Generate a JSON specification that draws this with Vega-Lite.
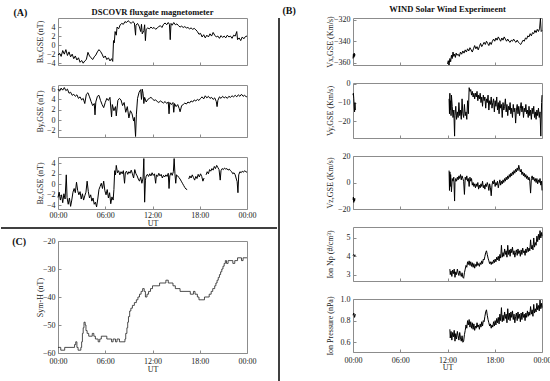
{
"$schema": "https://vega.github.io/schema/vega-lite/v6.json",
"background": "white",
"padding": {"left": 0, "top": 4, "right": 0, "bottom": 0},
"config": {
 "font": "Liberation Serif",
 "view": {"stroke": "#8c8c8c", "strokeWidth": 1},
 "axis": {"labelFont": "Liberation Serif", "labelFontSize": 8, "labelColor": "#1a1a1a", "titleFont": "Liberation Serif", "titleFontSize": 8, "titleFontWeight": "normal", "titleColor": "#1a1a1a", "domain": false, "grid": false, "tickColor": "#8c8c8c", "tickSize": -3, "labelPadding": 6},
 "axisX": {"titlePadding": -0.5, "labelFlush": false, "labelPadding": 5.5},
 "axisY": {"titlePadding": 2, "minExtent": 12, "maxExtent": 12},
 "title": {"font": "Liberation Serif", "fontSize": 8.5, "fontWeight": "bold", "color": "#111111", "offset": 2},
 "line": {"color": "black", "strokeWidth": 1, "clip": true}
},
"datasets": {
 "bx": [{"h":0,"v":-2.2},{"h":0.2,"v":-1.8},{"h":0.4,"v":-2.5},{"h":0.6,"v":-1.2},{"h":0.8,"v":-2.0},{"h":1.0,"v":-1.0},{"h":1.2,"v":-2.3},{"h":1.4,"v":-1.5},{"h":1.6,"v":-2.6},{"h":1.8,"v":-2.0},{"h":2.0,"v":-3.0},{"h":2.2,"v":-2.4},{"h":2.4,"v":-3.3},{"h":2.6,"v":-2.8},{"h":2.8,"v":-3.8},{"h":3.0,"v":-3.4},{"h":3.2,"v":-4.0},{"h":3.4,"v":-3.5},{"h":3.6,"v":-3.2},{"h":3.8,"v":-1.6},{"h":4.0,"v":-2.4},{"h":4.2,"v":-2.8},{"h":4.4,"v":-3.2},{"h":4.6,"v":-2.6},{"h":4.8,"v":-2.2},{"h":5.0,"v":-1.5},{"h":5.2,"v":-1.0},{"h":5.4,"v":-1.4},{"h":5.6,"v":-2.0},{"h":5.8,"v":-2.8},{"h":6.0,"v":-2.4},{"h":6.2,"v":-3.2},{"h":6.4,"v":-2.8},{"h":6.6,"v":-3.5},{"h":6.8,"v":-3.0},{"h":6.95,"v":-3.6},{"h":7.05,"v":1.0},{"h":7.15,"v":0.5},{"h":7.25,"v":3.0},{"h":7.4,"v":2.2},{"h":7.5,"v":4.0},{"h":7.7,"v":3.6},{"h":7.9,"v":4.5},{"h":8.1,"v":4.8},{"h":8.3,"v":4.6},{"h":8.5,"v":5.2},{"h":8.7,"v":5.0},{"h":8.9,"v":5.4},{"h":9.1,"v":5.1},{"h":9.3,"v":4.8},{"h":9.5,"v":5.2},{"h":9.7,"v":4.9},{"h":9.85,"v":2.2},{"h":9.9,"v":4.4},{"h":10.1,"v":4.8},{"h":10.3,"v":4.2},{"h":10.5,"v":3.0},{"h":10.6,"v":4.6},{"h":10.7,"v":2.5},{"h":10.9,"v":3.2},{"h":11.0,"v":4.5},{"h":11.1,"v":1.0},{"h":11.2,"v":3.5},{"h":11.4,"v":3.8},{"h":11.6,"v":3.6},{"h":11.8,"v":4.0},{"h":12.0,"v":3.7},{"h":12.2,"v":3.9},{"h":12.4,"v":3.5},{"h":12.6,"v":3.8},{"h":12.8,"v":4.1},{"h":13.0,"v":4.3},{"h":13.2,"v":3.9},{"h":13.4,"v":4.6},{"h":13.6,"v":4.9},{"h":13.8,"v":4.5},{"h":14.0,"v":5.0},{"h":14.15,"v":4.6},{"h":14.25,"v":1.2},{"h":14.35,"v":4.8},{"h":14.5,"v":4.4},{"h":14.7,"v":5.0},{"h":14.9,"v":4.5},{"h":15.1,"v":4.7},{"h":15.3,"v":4.3},{"h":15.5,"v":4.0},{"h":15.7,"v":4.2},{"h":15.9,"v":3.9},{"h":16.1,"v":4.1},{"h":16.3,"v":3.8},{"h":16.5,"v":3.9},{"h":16.7,"v":3.6},{"h":16.9,"v":3.8},{"h":17.1,"v":3.5},{"h":17.3,"v":3.7},{"h":17.5,"v":3.4},{"h":17.7,"v":3.0},{"h":17.9,"v":2.4},{"h":18.1,"v":2.6},{"h":18.3,"v":1.8},{"h":18.5,"v":2.3},{"h":18.7,"v":1.6},{"h":18.9,"v":2.2},{"h":19.1,"v":1.8},{"h":19.3,"v":2.5},{"h":19.5,"v":2.0},{"h":19.7,"v":2.8},{"h":19.9,"v":2.2},{"h":20.1,"v":1.8},{"h":20.3,"v":2.0},{"h":20.5,"v":1.5},{"h":20.7,"v":2.1},{"h":20.9,"v":1.7},{"h":21.1,"v":2.0},{"h":21.3,"v":1.6},{"h":21.5,"v":2.2},{"h":21.7,"v":1.8},{"h":21.9,"v":2.0},{"h":22.1,"v":1.5},{"h":22.3,"v":2.2},{"h":22.5,"v":2.0},{"h":22.7,"v":3.0},{"h":22.8,"v":1.2},{"h":23.0,"v":1.6},{"h":23.2,"v":1.0},{"h":23.4,"v":1.8},{"h":23.6,"v":1.4},{"h":23.8,"v":1.9},{"h":24.0,"v":2.0}],
 "by": [{"h":0,"v":6.0},{"h":0.2,"v":5.6},{"h":0.4,"v":6.2},{"h":0.6,"v":5.8},{"h":0.8,"v":6.3},{"h":1.0,"v":5.7},{"h":1.2,"v":6.0},{"h":1.4,"v":5.2},{"h":1.6,"v":5.4},{"h":1.8,"v":4.8},{"h":2.0,"v":5.0},{"h":2.2,"v":4.6},{"h":2.4,"v":4.9},{"h":2.6,"v":4.2},{"h":2.8,"v":4.5},{"h":3.0,"v":3.9},{"h":3.2,"v":4.2},{"h":3.4,"v":3.2},{"h":3.6,"v":5.0},{"h":3.8,"v":5.3},{"h":4.0,"v":4.5},{"h":4.2,"v":3.6},{"h":4.4,"v":2.8},{"h":4.6,"v":3.2},{"h":4.7,"v":1.0},{"h":4.8,"v":3.5},{"h":5.0,"v":4.6},{"h":5.2,"v":4.8},{"h":5.4,"v":3.8},{"h":5.6,"v":3.0},{"h":5.8,"v":2.4},{"h":6.0,"v":3.4},{"h":6.2,"v":4.2},{"h":6.4,"v":3.8},{"h":6.6,"v":4.4},{"h":6.8,"v":0.6},{"h":6.9,"v":3.0},{"h":7.1,"v":1.8},{"h":7.3,"v":2.6},{"h":7.4,"v":0.8},{"h":7.6,"v":3.8},{"h":7.8,"v":4.2},{"h":8.0,"v":3.9},{"h":8.2,"v":2.8},{"h":8.4,"v":3.4},{"h":8.6,"v":1.5},{"h":8.8,"v":2.6},{"h":9.0,"v":0.4},{"h":9.2,"v":1.8},{"h":9.4,"v":1.2},{"h":9.6,"v":-0.2},{"h":9.7,"v":0.5},{"h":9.85,"v":-3.2},{"h":9.95,"v":1.0},{"h":10.1,"v":4.2},{"h":10.3,"v":5.4},{"h":10.5,"v":5.9},{"h":10.6,"v":4.0},{"h":10.7,"v":6.0},{"h":10.8,"v":5.2},{"h":10.9,"v":3.2},{"h":11.0,"v":4.4},{"h":11.2,"v":3.5},{"h":11.4,"v":4.0},{"h":11.6,"v":4.2},{"h":11.8,"v":4.4},{"h":12.0,"v":4.1},{"h":12.2,"v":3.8},{"h":12.4,"v":3.9},{"h":12.6,"v":3.6},{"h":12.8,"v":3.4},{"h":13.0,"v":3.7},{"h":13.2,"v":3.5},{"h":13.4,"v":3.3},{"h":13.6,"v":3.6},{"h":13.8,"v":3.2},{"h":14.0,"v":3.5},{"h":14.1,"v":1.2},{"h":14.2,"v":3.4},{"h":14.4,"v":3.0},{"h":14.6,"v":3.4},{"h":14.7,"v":1.5},{"h":14.8,"v":3.2},{"h":15.0,"v":2.6},{"h":15.2,"v":3.0},{"h":15.4,"v":2.2},{"h":15.5,"v":1.6},{"h":15.7,"v":2.8},{"h":15.9,"v":3.0},{"h":16.1,"v":3.3},{"h":16.3,"v":3.1},{"h":16.5,"v":3.5},{"h":16.7,"v":3.3},{"h":16.9,"v":3.7},{"h":17.1,"v":3.5},{"h":17.3,"v":3.9},{"h":17.5,"v":3.7},{"h":17.7,"v":4.0},{"h":17.9,"v":3.8},{"h":18.1,"v":4.2},{"h":18.3,"v":4.5},{"h":18.5,"v":4.1},{"h":18.7,"v":4.7},{"h":18.9,"v":4.3},{"h":19.1,"v":4.6},{"h":19.3,"v":4.2},{"h":19.5,"v":4.4},{"h":19.7,"v":4.0},{"h":19.9,"v":4.3},{"h":20.1,"v":3.6},{"h":20.2,"v":2.6},{"h":20.3,"v":3.8},{"h":20.5,"v":4.5},{"h":20.7,"v":4.2},{"h":20.9,"v":4.6},{"h":21.1,"v":4.3},{"h":21.3,"v":4.5},{"h":21.5,"v":4.2},{"h":21.7,"v":4.6},{"h":21.9,"v":4.4},{"h":22.1,"v":4.7},{"h":22.3,"v":4.5},{"h":22.5,"v":4.8},{"h":22.7,"v":4.5},{"h":22.9,"v":4.9},{"h":23.1,"v":4.6},{"h":23.3,"v":5.0},{"h":23.5,"v":4.6},{"h":23.7,"v":4.8},{"h":23.9,"v":4.5},{"h":24.0,"v":4.6}],
 "bz": [{"h":0,"v":-2.5,"s":0},{"h":0.15,"v":-1.5,"s":0},{"h":0.3,"v":-3.0,"s":0},{"h":0.45,"v":-2.0,"s":0},{"h":0.6,"v":-3.5,"s":0},{"h":0.75,"v":-1.8,"s":0},{"h":0.9,"v":-2.8,"s":0},{"h":1.05,"v":1.8,"s":0},{"h":1.15,"v":-2.5,"s":0},{"h":1.3,"v":-3.8,"s":0},{"h":1.45,"v":-2.6,"s":0},{"h":1.6,"v":-4.2,"s":0},{"h":1.75,"v":-3.0,"s":0},{"h":1.9,"v":-1.5,"s":0},{"h":2.05,"v":-0.8,"s":0},{"h":2.2,"v":-1.6,"s":0},{"h":2.35,"v":0.4,"s":0},{"h":2.5,"v":-1.2,"s":0},{"h":2.65,"v":-2.0,"s":0},{"h":2.8,"v":-1.4,"s":0},{"h":2.95,"v":-2.8,"s":0},{"h":3.1,"v":-1.8,"s":0},{"h":3.25,"v":-3.0,"s":0},{"h":3.4,"v":-2.2,"s":0},{"h":3.55,"v":-1.5,"s":0},{"h":3.7,"v":0.6,"s":0},{"h":3.85,"v":-1.4,"s":0},{"h":4.0,"v":-2.6,"s":0},{"h":4.15,"v":-2.0,"s":0},{"h":4.3,"v":-3.2,"s":0},{"h":4.45,"v":-2.6,"s":0},{"h":4.6,"v":-3.8,"s":0},{"h":4.75,"v":-3.4,"s":0},{"h":4.9,"v":-4.3,"s":0},{"h":5.05,"v":-2.8,"s":0},{"h":5.2,"v":-1.0,"s":0},{"h":5.35,"v":-0.4,"s":0},{"h":5.5,"v":0.2,"s":0},{"h":5.65,"v":-0.8,"s":0},{"h":5.8,"v":0.6,"s":0},{"h":5.95,"v":-1.2,"s":0},{"h":6.1,"v":-2.0,"s":0},{"h":6.25,"v":-1.0,"s":0},{"h":6.4,"v":-2.6,"s":0},{"h":6.55,"v":-1.6,"s":0},{"h":6.7,"v":-3.7,"s":0},{"h":6.85,"v":-2.4,"s":0},{"h":7.0,"v":-3.0,"s":0},{"h":7.1,"v":-1.0,"s":0},{"h":7.2,"v":2.6,"s":0},{"h":7.3,"v":1.8,"s":0},{"h":7.4,"v":3.6,"s":0},{"h":7.55,"v":2.2,"s":0},{"h":7.7,"v":2.6,"s":0},{"h":7.85,"v":1.8,"s":0},{"h":8.0,"v":2.4,"s":0},{"h":8.15,"v":2.0,"s":0},{"h":8.3,"v":2.6,"s":0},{"h":8.45,"v":0.2,"s":0},{"h":8.55,"v":2.2,"s":0},{"h":8.7,"v":2.5,"s":0},{"h":8.85,"v":1.9,"s":0},{"h":9.0,"v":2.4,"s":0},{"h":9.15,"v":2.1,"s":0},{"h":9.3,"v":2.7,"s":0},{"h":9.45,"v":2.0,"s":0},{"h":9.6,"v":1.2,"s":0},{"h":9.75,"v":2.8,"s":0},{"h":9.9,"v":2.0,"s":0},{"h":10.05,"v":1.6,"s":0},{"h":10.2,"v":1.0,"s":0},{"h":10.35,"v":0.6,"s":0},{"h":10.5,"v":1.4,"s":0},{"h":10.65,"v":0.2,"s":0},{"h":10.8,"v":1.2,"s":0},{"h":10.9,"v":4.9,"s":0},{"h":11.0,"v":-3.4,"s":0},{"h":11.1,"v":0.8,"s":0},{"h":11.2,"v":1.6,"s":0},{"h":11.35,"v":1.9,"s":0},{"h":11.5,"v":1.5,"s":0},{"h":11.65,"v":2.0,"s":0},{"h":11.8,"v":1.6,"s":0},{"h":11.95,"v":2.2,"s":0},{"h":12.1,"v":1.7,"s":0},{"h":12.25,"v":2.0,"s":0},{"h":12.4,"v":0.2,"s":0},{"h":12.5,"v":1.8,"s":0},{"h":12.65,"v":1.5,"s":0},{"h":12.8,"v":2.1,"s":0},{"h":12.95,"v":1.6,"s":0},{"h":13.1,"v":1.9,"s":0},{"h":13.25,"v":1.2,"s":0},{"h":13.4,"v":1.7,"s":0},{"h":13.55,"v":1.4,"s":0},{"h":13.7,"v":1.8,"s":0},{"h":13.85,"v":1.5,"s":0},{"h":14.0,"v":2.1,"s":0},{"h":14.1,"v":-0.8,"s":0},{"h":14.2,"v":1.6,"s":0},{"h":14.35,"v":2.2,"s":0},{"h":14.5,"v":1.7,"s":0},{"h":14.65,"v":2.4,"s":0},{"h":14.75,"v":4.9,"s":0},{"h":14.85,"v":2.0,"s":0},{"h":14.95,"v":0.2,"s":0},{"h":15.05,"v":1.8,"s":0},{"h":15.2,"v":1.6,"s":0},{"h":15.35,"v":1.3,"s":0},{"h":15.5,"v":1.0,"s":0},{"h":15.65,"v":0.6,"s":0},{"h":15.8,"v":0.2,"s":0},{"h":15.95,"v":-0.2,"s":0},{"h":16.1,"v":-0.6,"s":0},{"h":16.25,"v":-0.9,"s":0},{"h":16.4,"v":-1.0,"s":0},
  {"h":16.6,"v":1.0,"s":1},{"h":16.75,"v":1.6,"s":1},{"h":16.9,"v":1.2,"s":1},{"h":17.05,"v":1.8,"s":1},{"h":17.2,"v":1.3,"s":1},{"h":17.35,"v":0.8,"s":1},{"h":17.5,"v":1.5,"s":1},{"h":17.65,"v":1.1,"s":1},{"h":17.8,"v":1.9,"s":1},{"h":17.95,"v":1.4,"s":1},{"h":18.1,"v":2.0,"s":1},{"h":18.25,"v":1.5,"s":1},{"h":18.4,"v":0.6,"s":1},{"h":18.55,"v":1.2,"s":1},
  {"h":18.8,"v":1.8,"s":2},{"h":18.95,"v":2.4,"s":2},{"h":19.1,"v":2.0,"s":2},{"h":19.25,"v":2.8,"s":2},{"h":19.4,"v":2.5,"s":2},{"h":19.55,"v":3.0,"s":2},{"h":19.7,"v":2.7,"s":2},{"h":19.85,"v":3.4,"s":2},{"h":20.0,"v":3.0,"s":2},{"h":20.15,"v":3.6,"s":2},{"h":20.3,"v":3.2,"s":2},{"h":20.45,"v":2.8,"s":2},{"h":20.6,"v":0.8,"s":2},{"h":20.7,"v":2.6,"s":2},{"h":20.85,"v":3.0,"s":2},{"h":21.0,"v":2.8,"s":2},{"h":21.15,"v":3.1,"s":2},{"h":21.3,"v":2.9,"s":2},{"h":21.45,"v":3.0,"s":2},{"h":21.6,"v":2.7,"s":2},{"h":21.75,"v":2.9,"s":2},{"h":21.9,"v":2.6,"s":2},{"h":22.05,"v":2.4,"s":2},{"h":22.2,"v":2.0,"s":2},{"h":22.35,"v":2.2,"s":2},{"h":22.5,"v":1.8,"s":2},{"h":22.65,"v":1.0,"s":2},{"h":22.75,"v":0.5,"s":2},{"h":22.85,"v":-1.6,"s":2},{"h":22.95,"v":1.8,"s":2},{"h":23.1,"v":2.4,"s":2},{"h":23.25,"v":2.2,"s":2},{"h":23.4,"v":2.5,"s":2},{"h":23.55,"v":2.3,"s":2},{"h":23.7,"v":2.6,"s":2},{"h":23.85,"v":2.4,"s":2},{"h":24.0,"v":2.3,"s":2}],
 "sym": [{"h":0,"v":-58},{"h":0.35,"v":-59},{"h":0.85,"v":-58},{"h":2.1,"v":-57},{"h":2.25,"v":-56},{"h":2.4,"v":-58},{"h":2.55,"v":-59},{"h":2.9,"v":-58},{"h":3.0,"v":-56},{"h":3.1,"v":-53},{"h":3.2,"v":-51},{"h":3.3,"v":-49},{"h":3.45,"v":-50},{"h":3.55,"v":-52},{"h":3.7,"v":-53},{"h":3.9,"v":-54},{"h":4.35,"v":-53},{"h":4.55,"v":-54},{"h":4.75,"v":-55},{"h":5.1,"v":-56},{"h":5.3,"v":-55},{"h":5.5,"v":-54},{"h":6.2,"v":-55},{"h":6.8,"v":-56},{"h":7.0,"v":-55},{"h":7.3,"v":-56},{"h":7.5,"v":-55},{"h":7.8,"v":-56},{"h":8.5,"v":-55},{"h":8.6,"v":-53},{"h":8.75,"v":-51},{"h":8.85,"v":-49},{"h":8.95,"v":-47},{"h":9.1,"v":-45},{"h":9.25,"v":-44},{"h":9.45,"v":-43},{"h":9.7,"v":-42},{"h":9.95,"v":-41},{"h":10.15,"v":-40},{"h":10.35,"v":-39},{"h":10.55,"v":-38},{"h":10.75,"v":-37},{"h":10.95,"v":-38},{"h":11.1,"v":-40},{"h":11.3,"v":-39},{"h":11.5,"v":-38},{"h":11.75,"v":-37},{"h":12.0,"v":-36},{"h":12.9,"v":-35},{"h":13.7,"v":-34},{"h":14.0,"v":-35},{"h":14.6,"v":-36},{"h":14.9,"v":-37},{"h":15.5,"v":-38},{"h":16.8,"v":-39},{"h":17.2,"v":-38},{"h":17.4,"v":-39},{"h":17.7,"v":-40},{"h":17.9,"v":-41},{"h":18.6,"v":-40},{"h":19.2,"v":-39},{"h":19.45,"v":-38},{"h":19.65,"v":-37},{"h":19.9,"v":-36},{"h":20.05,"v":-35},{"h":20.2,"v":-34},{"h":20.35,"v":-33},{"h":20.5,"v":-32},{"h":20.65,"v":-31},{"h":20.8,"v":-30},{"h":20.95,"v":-29},{"h":21.1,"v":-28},{"h":21.25,"v":-27},{"h":21.4,"v":-28},{"h":21.6,"v":-27},{"h":22.2,"v":-28},{"h":22.45,"v":-27},{"h":22.8,"v":-26},{"h":23.3,"v":-27},{"h":23.5,"v":-26},{"h":24.0,"v":-26}],
 "vx": [{"h":0,"v":-356,"s":0},{"h":0.05,"v":-352,"s":0},{"h":0.1,"v":-355,"s":0},{"h":0.15,"v":-351,"s":0},{"h":0.2,"v":-354,"s":0},{"h":0.25,"v":-352,"s":0},
  {"h":12.0,"v":-361,"s":1},{"h":12.1,"v":-358,"s":1},{"h":12.2,"v":-362,"s":1},{"h":12.3,"v":-356,"s":1},{"h":12.4,"v":-359,"s":1},{"h":12.5,"v":-353,"s":1},{"h":12.6,"v":-356,"s":1},{"h":12.7,"v":-350,"s":1},{"h":12.8,"v":-354,"s":1},{"h":12.9,"v":-352,"s":1},{"h":13.0,"v":-355,"s":1},{"h":13.1,"v":-351,"s":1},{"h":13.2,"v":-353,"s":1},{"h":13.35,"v":-352,"s":1},{"h":13.5,"v":-354,"s":1},{"h":13.65,"v":-350,"s":1},{"h":13.8,"v":-352,"s":1},{"h":13.95,"v":-349,"s":1},{"h":14.1,"v":-351,"s":1},{"h":14.25,"v":-348,"s":1},{"h":14.4,"v":-350,"s":1},{"h":14.55,"v":-347,"s":1},{"h":14.7,"v":-349,"s":1},{"h":14.85,"v":-346,"s":1},{"h":15.0,"v":-348,"s":1},{"h":15.15,"v":-350,"s":1},{"h":15.3,"v":-347,"s":1},{"h":15.45,"v":-344,"s":1},{"h":15.6,"v":-347,"s":1},{"h":15.75,"v":-345,"s":1},{"h":15.9,"v":-348,"s":1},{"h":16.05,"v":-345,"s":1},{"h":16.2,"v":-342,"s":1},{"h":16.35,"v":-345,"s":1},{"h":16.5,"v":-343,"s":1},{"h":16.65,"v":-341,"s":1},{"h":16.8,"v":-343,"s":1},{"h":16.95,"v":-340,"s":1},{"h":17.1,"v":-342,"s":1},{"h":17.25,"v":-344,"s":1},{"h":17.4,"v":-341,"s":1},{"h":17.55,"v":-343,"s":1},{"h":17.7,"v":-340,"s":1},{"h":17.85,"v":-338,"s":1},{"h":18.0,"v":-340,"s":1},{"h":18.15,"v":-337,"s":1},{"h":18.3,"v":-339,"s":1},{"h":18.45,"v":-336,"s":1},{"h":18.6,"v":-338,"s":1},{"h":18.75,"v":-340,"s":1},{"h":18.9,"v":-337,"s":1},{"h":19.05,"v":-339,"s":1},{"h":19.2,"v":-336,"s":1},{"h":19.35,"v":-338,"s":1},{"h":19.5,"v":-340,"s":1},{"h":19.65,"v":-338,"s":1},{"h":19.8,"v":-340,"s":1},{"h":19.95,"v":-341,"s":1},{"h":20.1,"v":-339,"s":1},{"h":20.25,"v":-340,"s":1},{"h":20.4,"v":-338,"s":1},{"h":20.55,"v":-340,"s":1},{"h":20.7,"v":-341,"s":1},{"h":20.85,"v":-339,"s":1},{"h":21.0,"v":-341,"s":1},{"h":21.15,"v":-342,"s":1},{"h":21.3,"v":-343,"s":1},{"h":21.45,"v":-341,"s":1},{"h":21.6,"v":-339,"s":1},{"h":21.75,"v":-340,"s":1},{"h":21.9,"v":-337,"s":1},{"h":22.05,"v":-338,"s":1},{"h":22.2,"v":-335,"s":1},{"h":22.35,"v":-336,"s":1},{"h":22.5,"v":-333,"s":1},{"h":22.65,"v":-335,"s":1},{"h":22.8,"v":-332,"s":1},{"h":22.95,"v":-333,"s":1},{"h":23.1,"v":-330,"s":1},{"h":23.25,"v":-332,"s":1},{"h":23.4,"v":-329,"s":1},{"h":23.55,"v":-331,"s":1},{"h":23.7,"v":-328,"s":1},{"h":23.8,"v":-319,"s":1},{"h":23.9,"v":-331,"s":1},{"h":24.0,"v":-330,"s":1}],
 "vy": [{"h":0,"v":-6,"s":0},{"h":0.05,"v":-5,"s":0},{"h":0.1,"v":-8,"s":0},{"h":0.15,"v":-12,"s":0},{"h":0.2,"v":-15,"s":0},{"h":0.25,"v":-10,"s":0},{"h":0.3,"v":-14,"s":0},
  {"h":12.2,"v":-8,"s":1},{"h":12.25,"v":-16,"s":1},{"h":12.3,"v":-5,"s":1},{"h":12.35,"v":-14,"s":1},{"h":12.4,"v":-9,"s":1},{"h":12.45,"v":-17,"s":1},{"h":12.5,"v":-6,"s":1},{"h":12.6,"v":-12,"s":1},{"h":12.7,"v":-18,"s":1},{"h":12.8,"v":-14,"s":1},{"h":12.9,"v":-28,"s":1},{"h":12.95,"v":-17,"s":1},{"h":13.05,"v":-12,"s":1},{"h":13.15,"v":-19,"s":1},{"h":13.25,"v":-15,"s":1},{"h":13.35,"v":-18,"s":1},{"h":13.45,"v":-10,"s":1},{"h":13.55,"v":-17,"s":1},{"h":13.65,"v":-14,"s":1},{"h":13.75,"v":-19,"s":1},{"h":13.85,"v":-8,"s":1},{"h":13.95,"v":-16,"s":1},{"h":14.05,"v":-18,"s":1},{"h":14.15,"v":-11,"s":1},{"h":14.25,"v":-17,"s":1},{"h":14.35,"v":-15,"s":1},{"h":14.45,"v":-19,"s":1},{"h":14.55,"v":-9,"s":1},{"h":14.65,"v":-16,"s":1},{"h":14.75,"v":-2,"s":1},{"h":14.85,"v":-4,"s":1},{"h":14.95,"v":-3,"s":1},{"h":15.05,"v":-6,"s":1},{"h":15.15,"v":-4,"s":1},{"h":15.25,"v":-7,"s":1},{"h":15.35,"v":-5,"s":1},{"h":15.45,"v":-8,"s":1},{"h":15.55,"v":-5,"s":1},{"h":15.65,"v":-7,"s":1},{"h":15.75,"v":-4,"s":1},{"h":15.85,"v":-9,"s":1},{"h":15.95,"v":-6,"s":1},{"h":16.05,"v":-8,"s":1},{"h":16.15,"v":-5,"s":1},{"h":16.25,"v":-10,"s":1},{"h":16.35,"v":-7,"s":1},{"h":16.45,"v":-12,"s":1},{"h":16.55,"v":-6,"s":1},{"h":16.65,"v":-9,"s":1},{"h":16.75,"v":-7,"s":1},{"h":16.85,"v":-13,"s":1},{"h":16.95,"v":-8,"s":1},{"h":17.05,"v":-10,"s":1},{"h":17.15,"v":-6,"s":1},{"h":17.25,"v":-14,"s":1},{"h":17.35,"v":-9,"s":1},{"h":17.45,"v":-11,"s":1},{"h":17.55,"v":-7,"s":1},{"h":17.65,"v":-13,"s":1},{"h":17.75,"v":-10,"s":1},{"h":17.85,"v":-8,"s":1},{"h":17.95,"v":-15,"s":1},{"h":18.05,"v":-9,"s":1},{"h":18.15,"v":-12,"s":1},{"h":18.25,"v":-7,"s":1},{"h":18.35,"v":-14,"s":1},{"h":18.45,"v":-10,"s":1},{"h":18.55,"v":-16,"s":1},{"h":18.65,"v":-9,"s":1},{"h":18.75,"v":-13,"s":1},{"h":18.85,"v":-11,"s":1},{"h":18.95,"v":-18,"s":1},{"h":19.05,"v":-10,"s":1},{"h":19.15,"v":-14,"s":1},{"h":19.25,"v":-12,"s":1},{"h":19.35,"v":-8,"s":1},{"h":19.45,"v":-15,"s":1},{"h":19.55,"v":-11,"s":1},{"h":19.65,"v":-17,"s":1},{"h":19.75,"v":-12,"s":1},{"h":19.85,"v":-14,"s":1},{"h":19.95,"v":-10,"s":1},{"h":20.05,"v":-16,"s":1},{"h":20.15,"v":-13,"s":1},{"h":20.25,"v":-18,"s":1},{"h":20.35,"v":-11,"s":1},{"h":20.45,"v":-15,"s":1},{"h":20.55,"v":-13,"s":1},{"h":20.65,"v":-21,"s":1},{"h":20.75,"v":-14,"s":1},{"h":20.85,"v":-11,"s":1},{"h":20.95,"v":-16,"s":1},{"h":21.05,"v":-12,"s":1},{"h":21.15,"v":-17,"s":1},{"h":21.25,"v":-13,"s":1},{"h":21.35,"v":-10,"s":1},{"h":21.45,"v":-15,"s":1},{"h":21.55,"v":-12,"s":1},{"h":21.65,"v":-18,"s":1},{"h":21.75,"v":-13,"s":1},{"h":21.85,"v":-15,"s":1},{"h":21.95,"v":-11,"s":1},{"h":22.05,"v":-16,"s":1},{"h":22.15,"v":-14,"s":1},{"h":22.25,"v":-18,"s":1},{"h":22.35,"v":-12,"s":1},{"h":22.45,"v":-17,"s":1},{"h":22.55,"v":-14,"s":1},{"h":22.65,"v":-19,"s":1},{"h":22.75,"v":-13,"s":1},{"h":22.85,"v":-16,"s":1},{"h":22.95,"v":-12,"s":1},{"h":23.05,"v":-18,"s":1},{"h":23.15,"v":-15,"s":1},{"h":23.25,"v":-19,"s":1},{"h":23.35,"v":-14,"s":1},{"h":23.45,"v":-17,"s":1},{"h":23.55,"v":-13,"s":1},{"h":23.65,"v":-18,"s":1},{"h":23.75,"v":-15,"s":1},{"h":23.85,"v":-28,"s":1},{"h":23.95,"v":-10,"s":1},{"h":24.0,"v":-6,"s":1}],
 "vz": [{"h":0,"v":-13,"s":0},{"h":0.05,"v":-11,"s":0},{"h":0.1,"v":-15,"s":0},{"h":0.15,"v":-12,"s":0},{"h":0.2,"v":-14,"s":0},{"h":0.25,"v":-12,"s":0},
  {"h":12.2,"v":9,"s":1},{"h":12.25,"v":-6,"s":1},{"h":12.3,"v":8,"s":1},{"h":12.35,"v":-3,"s":1},{"h":12.4,"v":6,"s":1},{"h":12.5,"v":-7,"s":1},{"h":12.6,"v":3,"s":1},{"h":12.7,"v":1,"s":1},{"h":12.8,"v":4,"s":1},{"h":12.9,"v":-14,"s":1},{"h":12.95,"v":0,"s":1},{"h":13.05,"v":3,"s":1},{"h":13.15,"v":1,"s":1},{"h":13.25,"v":4,"s":1},{"h":13.35,"v":2,"s":1},{"h":13.45,"v":5,"s":1},{"h":13.55,"v":3,"s":1},{"h":13.65,"v":6,"s":1},{"h":13.75,"v":2,"s":1},{"h":13.85,"v":5,"s":1},{"h":13.95,"v":3,"s":1},{"h":14.05,"v":1,"s":1},{"h":14.15,"v":-9,"s":1},{"h":14.25,"v":4,"s":1},{"h":14.35,"v":2,"s":1},{"h":14.45,"v":5,"s":1},{"h":14.55,"v":1,"s":1},{"h":14.65,"v":3,"s":1},{"h":14.75,"v":-3,"s":1},{"h":14.85,"v":4,"s":1},{"h":14.95,"v":1,"s":1},{"h":15.05,"v":3,"s":1},{"h":15.15,"v":-2,"s":1},{"h":15.25,"v":0,"s":1},{"h":15.35,"v":-3,"s":1},{"h":15.45,"v":-1,"s":1},{"h":15.55,"v":-4,"s":1},{"h":15.65,"v":-1,"s":1},{"h":15.75,"v":-3,"s":1},{"h":15.85,"v":0,"s":1},{"h":15.95,"v":-5,"s":1},{"h":16.05,"v":-2,"s":1},{"h":16.15,"v":-4,"s":1},{"h":16.25,"v":-1,"s":1},{"h":16.35,"v":-3,"s":1},{"h":16.45,"v":1,"s":1},{"h":16.55,"v":-4,"s":1},{"h":16.65,"v":-2,"s":1},{"h":16.75,"v":-5,"s":1},{"h":16.85,"v":-1,"s":1},{"h":16.95,"v":-3,"s":1},{"h":17.05,"v":0,"s":1},{"h":17.15,"v":-2,"s":1},{"h":17.25,"v":-6,"s":1},{"h":17.35,"v":-1,"s":1},{"h":17.45,"v":-4,"s":1},{"h":17.55,"v":-10,"s":1},{"h":17.65,"v":-2,"s":1},{"h":17.75,"v":1,"s":1},{"h":17.85,"v":-1,"s":1},{"h":17.95,"v":2,"s":1},{"h":18.05,"v":-3,"s":1},{"h":18.15,"v":0,"s":1},{"h":18.25,"v":-2,"s":1},{"h":18.35,"v":1,"s":1},{"h":18.45,"v":-4,"s":1},{"h":18.55,"v":-1,"s":1},{"h":18.65,"v":2,"s":1},{"h":18.75,"v":-2,"s":1},{"h":18.85,"v":1,"s":1},{"h":18.95,"v":-1,"s":1},{"h":19.05,"v":2,"s":1},{"h":19.15,"v":0,"s":1},{"h":19.25,"v":3,"s":1},{"h":19.35,"v":1,"s":1},{"h":19.45,"v":4,"s":1},{"h":19.55,"v":2,"s":1},{"h":19.65,"v":5,"s":1},{"h":19.75,"v":3,"s":1},{"h":19.85,"v":6,"s":1},{"h":19.95,"v":4,"s":1},{"h":20.05,"v":7,"s":1},{"h":20.15,"v":5,"s":1},{"h":20.25,"v":8,"s":1},{"h":20.35,"v":6,"s":1},{"h":20.45,"v":9,"s":1},{"h":20.55,"v":7,"s":1},{"h":20.65,"v":10,"s":1},{"h":20.75,"v":8,"s":1},{"h":20.85,"v":11,"s":1},{"h":20.95,"v":9,"s":1},{"h":21.05,"v":13,"s":1},{"h":21.15,"v":10,"s":1},{"h":21.25,"v":8,"s":1},{"h":21.35,"v":10,"s":1},{"h":21.45,"v":6,"s":1},{"h":21.55,"v":8,"s":1},{"h":21.65,"v":5,"s":1},{"h":21.75,"v":7,"s":1},{"h":21.85,"v":4,"s":1},{"h":21.95,"v":6,"s":1},{"h":22.05,"v":3,"s":1},{"h":22.15,"v":5,"s":1},{"h":22.25,"v":2,"s":1},{"h":22.35,"v":4,"s":1},{"h":22.45,"v":1,"s":1},{"h":22.55,"v":-8,"s":1},{"h":22.65,"v":3,"s":1},{"h":22.75,"v":5,"s":1},{"h":22.85,"v":2,"s":1},{"h":22.95,"v":4,"s":1},{"h":23.05,"v":1,"s":1},{"h":23.15,"v":3,"s":1},{"h":23.25,"v":0,"s":1},{"h":23.35,"v":3,"s":1},{"h":23.45,"v":-1,"s":1},{"h":23.55,"v":2,"s":1},{"h":23.65,"v":0,"s":1},{"h":23.75,"v":3,"s":1},{"h":23.85,"v":-2,"s":1},{"h":23.95,"v":1,"s":1},{"h":24.0,"v":-6,"s":1}],
 "np": [{"h":0,"v":4.05,"s":0},{"h":0.1,"v":4.1,"s":0},{"h":0.2,"v":4.0,"s":0},{"h":0.3,"v":4.08,"s":0},
  {"h":12.3,"v":3.3,"s":1},{"h":12.35,"v":3.0,"s":1},{"h":12.45,"v":3.2,"s":1},{"h":12.55,"v":2.9,"s":1},{"h":12.65,"v":3.25,"s":1},{"h":12.75,"v":3.05,"s":1},{"h":12.85,"v":3.3,"s":1},{"h":12.95,"v":2.85,"s":1},{"h":13.05,"v":3.15,"s":1},{"h":13.15,"v":3.0,"s":1},{"h":13.25,"v":3.3,"s":1},{"h":13.35,"v":3.1,"s":1},{"h":13.45,"v":2.95,"s":1},{"h":13.55,"v":3.2,"s":1},{"h":13.65,"v":3.05,"s":1},{"h":13.75,"v":2.9,"s":1},{"h":13.85,"v":3.1,"s":1},{"h":13.95,"v":2.85,"s":1},{"h":14.05,"v":2.8,"s":1},{"h":14.15,"v":3.1,"s":1},{"h":14.25,"v":3.3,"s":1},{"h":14.35,"v":3.5,"s":1},{"h":14.45,"v":3.4,"s":1},{"h":14.55,"v":3.7,"s":1},{"h":14.65,"v":3.55,"s":1},{"h":14.75,"v":3.75,"s":1},{"h":14.85,"v":3.5,"s":1},{"h":14.95,"v":3.7,"s":1},{"h":15.05,"v":3.45,"s":1},{"h":15.15,"v":3.65,"s":1},{"h":15.25,"v":3.4,"s":1},{"h":15.35,"v":3.6,"s":1},{"h":15.45,"v":3.35,"s":1},{"h":15.55,"v":3.55,"s":1},{"h":15.65,"v":3.45,"s":1},{"h":15.75,"v":3.7,"s":1},{"h":15.85,"v":3.5,"s":1},{"h":15.95,"v":3.6,"s":1},{"h":16.05,"v":3.45,"s":1},{"h":16.15,"v":3.65,"s":1},{"h":16.25,"v":3.55,"s":1},{"h":16.35,"v":3.75,"s":1},{"h":16.45,"v":3.6,"s":1},{"h":16.55,"v":3.85,"s":1},{"h":16.65,"v":3.8,"s":1},{"h":16.75,"v":4.0,"s":1},{"h":16.85,"v":4.2,"s":1},{"h":16.95,"v":4.3,"s":1},{"h":17.05,"v":4.1,"s":1},{"h":17.15,"v":3.9,"s":1},{"h":17.25,"v":3.75,"s":1},{"h":17.35,"v":3.6,"s":1},{"h":17.45,"v":3.7,"s":1},{"h":17.55,"v":3.55,"s":1},{"h":17.65,"v":3.7,"s":1},{"h":17.75,"v":3.6,"s":1},{"h":17.85,"v":3.8,"s":1},{"h":17.95,"v":3.65,"s":1},{"h":18.05,"v":3.85,"s":1},{"h":18.15,"v":3.7,"s":1},{"h":18.25,"v":3.95,"s":1},{"h":18.35,"v":3.8,"s":1},{"h":18.45,"v":4.0,"s":1},{"h":18.55,"v":3.75,"s":1},{"h":18.65,"v":4.1,"s":1},{"h":18.75,"v":3.9,"s":1},{"h":18.85,"v":4.6,"s":1},{"h":18.95,"v":3.95,"s":1},{"h":19.05,"v":4.2,"s":1},{"h":19.15,"v":4.0,"s":1},{"h":19.25,"v":4.4,"s":1},{"h":19.35,"v":4.1,"s":1},{"h":19.45,"v":4.3,"s":1},{"h":19.55,"v":3.95,"s":1},{"h":19.65,"v":4.6,"s":1},{"h":19.75,"v":4.1,"s":1},{"h":19.85,"v":4.35,"s":1},{"h":19.95,"v":4.0,"s":1},{"h":20.05,"v":4.4,"s":1},{"h":20.15,"v":4.2,"s":1},{"h":20.25,"v":4.5,"s":1},{"h":20.35,"v":4.1,"s":1},{"h":20.45,"v":4.3,"s":1},{"h":20.55,"v":3.95,"s":1},{"h":20.65,"v":4.2,"s":1},{"h":20.75,"v":4.35,"s":1},{"h":20.85,"v":4.05,"s":1},{"h":20.95,"v":4.4,"s":1},{"h":21.05,"v":4.15,"s":1},{"h":21.15,"v":4.3,"s":1},{"h":21.25,"v":4.0,"s":1},{"h":21.35,"v":4.35,"s":1},{"h":21.45,"v":4.1,"s":1},{"h":21.55,"v":4.45,"s":1},{"h":21.65,"v":4.2,"s":1},{"h":21.75,"v":4.3,"s":1},{"h":21.85,"v":4.05,"s":1},{"h":21.95,"v":4.4,"s":1},{"h":22.05,"v":4.2,"s":1},{"h":22.15,"v":4.5,"s":1},{"h":22.25,"v":4.25,"s":1},{"h":22.35,"v":4.45,"s":1},{"h":22.45,"v":4.3,"s":1},{"h":22.55,"v":4.9,"s":1},{"h":22.65,"v":4.4,"s":1},{"h":22.75,"v":4.6,"s":1},{"h":22.85,"v":4.35,"s":1},{"h":22.95,"v":5.0,"s":1},{"h":23.05,"v":4.5,"s":1},{"h":23.15,"v":4.75,"s":1},{"h":23.25,"v":4.6,"s":1},{"h":23.35,"v":5.1,"s":1},{"h":23.45,"v":4.8,"s":1},{"h":23.55,"v":5.2,"s":1},{"h":23.65,"v":4.9,"s":1},{"h":23.75,"v":5.4,"s":1},{"h":23.85,"v":5.0,"s":1},{"h":23.95,"v":5.3,"s":1},{"h":24.0,"v":5.1,"s":1}],
 "pp": [{"h":0,"v":0.85,"s":0},{"h":0.1,"v":0.87,"s":0},{"h":0.2,"v":0.83,"s":0},{"h":0.3,"v":0.86,"s":0},
  {"h":12.3,"v":0.72,"s":1},{"h":12.35,"v":0.64,"s":1},{"h":12.45,"v":0.70,"s":1},{"h":12.55,"v":0.62,"s":1},{"h":12.65,"v":0.69,"s":1},{"h":12.75,"v":0.65,"s":1},{"h":12.85,"v":0.71,"s":1},{"h":12.95,"v":0.61,"s":1},{"h":13.05,"v":0.68,"s":1},{"h":13.15,"v":0.63,"s":1},{"h":13.25,"v":0.70,"s":1},{"h":13.35,"v":0.66,"s":1},{"h":13.45,"v":0.62,"s":1},{"h":13.55,"v":0.69,"s":1},{"h":13.65,"v":0.64,"s":1},{"h":13.75,"v":0.61,"s":1},{"h":13.85,"v":0.66,"s":1},{"h":13.95,"v":0.60,"s":1},{"h":14.05,"v":0.61,"s":1},{"h":14.15,"v":0.67,"s":1},{"h":14.25,"v":0.71,"s":1},{"h":14.35,"v":0.76,"s":1},{"h":14.45,"v":0.73,"s":1},{"h":14.55,"v":0.80,"s":1},{"h":14.65,"v":0.76,"s":1},{"h":14.75,"v":0.81,"s":1},{"h":14.85,"v":0.74,"s":1},{"h":14.95,"v":0.79,"s":1},{"h":15.05,"v":0.73,"s":1},{"h":15.15,"v":0.78,"s":1},{"h":15.25,"v":0.72,"s":1},{"h":15.35,"v":0.77,"s":1},{"h":15.45,"v":0.71,"s":1},{"h":15.55,"v":0.75,"s":1},{"h":15.65,"v":0.73,"s":1},{"h":15.75,"v":0.78,"s":1},{"h":15.85,"v":0.74,"s":1},{"h":15.95,"v":0.76,"s":1},{"h":16.05,"v":0.72,"s":1},{"h":16.15,"v":0.77,"s":1},{"h":16.25,"v":0.74,"s":1},{"h":16.35,"v":0.79,"s":1},{"h":16.45,"v":0.75,"s":1},{"h":16.55,"v":0.80,"s":1},{"h":16.65,"v":0.79,"s":1},{"h":16.75,"v":0.84,"s":1},{"h":16.85,"v":0.88,"s":1},{"h":16.95,"v":0.90,"s":1},{"h":17.05,"v":0.85,"s":1},{"h":17.15,"v":0.81,"s":1},{"h":17.25,"v":0.78,"s":1},{"h":17.35,"v":0.75,"s":1},{"h":17.45,"v":0.77,"s":1},{"h":17.55,"v":0.73,"s":1},{"h":17.65,"v":0.76,"s":1},{"h":17.75,"v":0.74,"s":1},{"h":17.85,"v":0.79,"s":1},{"h":17.95,"v":0.75,"s":1},{"h":18.05,"v":0.80,"s":1},{"h":18.15,"v":0.76,"s":1},{"h":18.25,"v":0.82,"s":1},{"h":18.35,"v":0.78,"s":1},{"h":18.45,"v":0.83,"s":1},{"h":18.55,"v":0.77,"s":1},{"h":18.65,"v":0.86,"s":1},{"h":18.75,"v":0.80,"s":1},{"h":18.85,"v":0.92,"s":1},{"h":18.95,"v":0.79,"s":1},{"h":19.05,"v":0.85,"s":1},{"h":19.15,"v":0.80,"s":1},{"h":19.25,"v":0.88,"s":1},{"h":19.35,"v":0.82,"s":1},{"h":19.45,"v":0.86,"s":1},{"h":19.55,"v":0.78,"s":1},{"h":19.65,"v":0.91,"s":1},{"h":19.75,"v":0.81,"s":1},{"h":19.85,"v":0.87,"s":1},{"h":19.95,"v":0.80,"s":1},{"h":20.05,"v":0.88,"s":1},{"h":20.15,"v":0.83,"s":1},{"h":20.25,"v":0.89,"s":1},{"h":20.35,"v":0.81,"s":1},{"h":20.45,"v":0.86,"s":1},{"h":20.55,"v":0.78,"s":1},{"h":20.65,"v":0.84,"s":1},{"h":20.75,"v":0.87,"s":1},{"h":20.85,"v":0.80,"s":1},{"h":20.95,"v":0.88,"s":1},{"h":21.05,"v":0.82,"s":1},{"h":21.15,"v":0.86,"s":1},{"h":21.25,"v":0.79,"s":1},{"h":21.35,"v":0.87,"s":1},{"h":21.45,"v":0.81,"s":1},{"h":21.55,"v":0.88,"s":1},{"h":21.65,"v":0.83,"s":1},{"h":21.75,"v":0.86,"s":1},{"h":21.85,"v":0.80,"s":1},{"h":21.95,"v":0.87,"s":1},{"h":22.05,"v":0.83,"s":1},{"h":22.15,"v":0.89,"s":1},{"h":22.25,"v":0.84,"s":1},{"h":22.35,"v":0.88,"s":1},{"h":22.45,"v":0.85,"s":1},{"h":22.55,"v":0.93,"s":1},{"h":22.65,"v":0.86,"s":1},{"h":22.75,"v":0.90,"s":1},{"h":22.85,"v":0.84,"s":1},{"h":22.95,"v":0.95,"s":1},{"h":23.05,"v":0.87,"s":1},{"h":23.15,"v":0.91,"s":1},{"h":23.25,"v":0.88,"s":1},{"h":23.35,"v":0.96,"s":1},{"h":23.45,"v":0.90,"s":1},{"h":23.55,"v":0.94,"s":1},{"h":23.65,"v":0.89,"s":1},{"h":23.75,"v":0.99,"s":1},{"h":23.85,"v":0.91,"s":1},{"h":23.95,"v":0.96,"s":1},{"h":24.0,"v":0.92,"s":1}]
},
"hconcat": [
 {
  "vconcat": [
   {
    "title": {"text": "(A)", "anchor": "start", "frame": "bounds", "fontSize": 10, "dx": -22, "dy": 11, "offset": 0},
    "bounds": "flush",
    "spacing": 20,
    "vconcat": [
     {"width": 189, "height": 47, "title": {"text": "DSCOVR fluxgate magnetometer"}, "data": {"name": "bx"}, "mark": {"type": "line"},
      "encoding": {"x": {"field": "h", "type": "quantitative", "scale": {"domain": [0, 24], "nice": false, "zero": false}, "axis": {"values": [0, 6, 12, 18, 24], "labels": false, "title": null}},
                   "y": {"field": "v", "type": "quantitative", "scale": {"domain": [-4.4, 6], "nice": false, "zero": false}, "axis": {"values": [-4, -2, 0, 2, 4], "title": "Bx,GSE (nT)"}}}},
     {"width": 189, "height": 52, "data": {"name": "by"}, "mark": {"type": "line"},
      "encoding": {"x": {"field": "h", "type": "quantitative", "scale": {"domain": [0, 24], "nice": false, "zero": false}, "axis": {"values": [0, 6, 12, 18, 24], "labels": false, "title": null}},
                   "y": {"field": "v", "type": "quantitative", "scale": {"domain": [-3.3, 6.8], "nice": false, "zero": false}, "axis": {"values": [-2, 0, 2, 4, 6], "title": "By,GSE (nT)"}}}},
     {"width": 189, "height": 52, "data": {"name": "bz"}, "mark": {"type": "line"},
      "encoding": {"x": {"field": "h", "type": "quantitative", "scale": {"domain": [0, 24], "nice": false, "zero": false}, "axis": {"values": [0, 6, 12, 18, 24], "title": "UT", "labelExpr": "(datum.value % 24 < 10 ? '0' : '') + (datum.value % 24) + ':00'"}},
                   "y": {"field": "v", "type": "quantitative", "scale": {"domain": [-4.7, 5.2], "nice": false, "zero": false}, "axis": {"values": [-4, -2, 0, 2, 4], "title": "Bz,GSE (nT)"}},
                   "detail": {"field": "s", "type": "nominal"}}}
    ]
   },
   {"width": 219, "height": 11, "data": {"values": [{"a": 1}]}, "mark": {"type": "rule", "color": "black", "strokeWidth": 1.5},
    "encoding": {"x": {"datum": -0.2603, "type": "quantitative", "scale": {"domain": [0, 1]}, "axis": null}, "x2": {"datum": 1},
                 "y": {"field": "a", "type": "quantitative", "scale": {"domain": [0, 1]}, "axis": null}}, "view": {"stroke": null}},
   {"width": 189, "height": 112, "title": {"text": "(C)", "orient": "left", "angle": 0, "anchor": "end", "align": "right", "baseline": "top", "frame": "bounds", "fontSize": 10, "offset": 8, "dx": 12},
    "data": {"name": "sym"}, "mark": {"type": "line", "interpolate": "step-after", "color": "#222222", "strokeWidth": 0.8},
    "encoding": {"x": {"field": "h", "type": "quantitative", "scale": {"domain": [0, 24], "nice": false, "zero": false}, "axis": {"values": [0, 6, 12, 18, 24], "title": "UT", "labelPadding": 7.5, "labelExpr": "(datum.value % 24 < 10 ? '0' : '') + (datum.value % 24) + ':00'"}},
                 "y": {"field": "v", "type": "quantitative", "scale": {"domain": [-60, -20], "nice": false, "zero": false}, "axis": {"values": [-60, -50, -40, -30, -20], "title": "Sym-H (nT)"}}}}
  ],
  "spacing": -3,
  "bounds": "full"
 },
 {"width": 3, "height": 375, "data": {"values": [{"a": 0}]}, "mark": {"type": "rule", "color": "black", "strokeWidth": 1.5},
  "encoding": {"x": {"field": "a", "type": "quantitative", "scale": {"domain": [0, 1]}, "axis": null}}, "view": {"stroke": null}},
 {
  "title": {"text": "(B)", "anchor": "start", "frame": "bounds", "fontSize": 10, "dx": -43, "dy": 11, "offset": 0},
  "bounds": "flush",
  "spacing": 18,
  "vconcat": [
   {"width": 189, "height": 47, "title": {"text": "WIND Solar Wind Experimeent"}, "data": {"name": "vx"}, "mark": {"type": "line"},
    "encoding": {"x": {"field": "h", "type": "quantitative", "scale": {"domain": [0, 24], "nice": false, "zero": false}, "axis": {"values": [0, 6, 12, 18, 24], "labels": false, "title": null}},
                 "y": {"field": "v", "type": "quantitative", "scale": {"domain": [-362, -318.5], "nice": false, "zero": false}, "axis": {"values": [-360, -340, -320], "title": "Vx,GSE (Km/s)", "minExtent": 17, "maxExtent": 17}},
                 "detail": {"field": "s", "type": "nominal"}}},
   {"width": 189, "height": 55, "data": {"name": "vy"}, "mark": {"type": "line"},
    "encoding": {"x": {"field": "h", "type": "quantitative", "scale": {"domain": [0, 24], "nice": false, "zero": false}, "axis": {"values": [0, 6, 12, 18, 24], "labels": false, "title": null}},
                 "y": {"field": "v", "type": "quantitative", "scale": {"domain": [-29, 0.5], "nice": false, "zero": false}, "axis": {"values": [-20, -10, 0], "title": "Vy,GSE (Km/s)", "minExtent": 17, "maxExtent": 17}},
                 "detail": {"field": "s", "type": "nominal"}}},
   {"width": 189, "height": 53, "data": {"name": "vz"}, "mark": {"type": "line"},
    "encoding": {"x": {"field": "h", "type": "quantitative", "scale": {"domain": [0, 24], "nice": false, "zero": false}, "axis": {"values": [0, 6, 12, 18, 24], "labels": false, "title": null}},
                 "y": {"field": "v", "type": "quantitative", "scale": {"domain": [-20, 20], "nice": false, "zero": false}, "axis": {"values": [-20, 0, 20], "title": "Vz,GSE (Km/s)", "minExtent": 17, "maxExtent": 17}},
                 "detail": {"field": "s", "type": "nominal"}}},
   {"width": 189, "height": 54, "data": {"name": "np"}, "mark": {"type": "line"},
    "encoding": {"x": {"field": "h", "type": "quantitative", "scale": {"domain": [0, 24], "nice": false, "zero": false}, "axis": {"values": [0, 6, 12, 18, 24], "labels": false, "title": null}},
                 "y": {"field": "v", "type": "quantitative", "scale": {"domain": [2.65, 5.6], "nice": false, "zero": false}, "axis": {"values": [3, 4, 5], "title": "Ion Np (#/cm³)", "minExtent": 17, "maxExtent": 17}},
                 "detail": {"field": "s", "type": "nominal"}}},
   {"width": 189, "height": 53, "data": {"name": "pp"}, "mark": {"type": "line"},
    "encoding": {"x": {"field": "h", "type": "quantitative", "scale": {"domain": [0, 24], "nice": false, "zero": false}, "axis": {"values": [0, 6, 12, 18, 24], "title": "UT", "labelPadding": 7, "labelExpr": "(datum.value % 24 < 10 ? '0' : '') + (datum.value % 24) + ':00'"}},
                 "y": {"field": "v", "type": "quantitative", "scale": {"domain": [0.51, 1.0], "nice": false, "zero": false}, "axis": {"values": [0.6, 0.8, 1], "title": "Ion Pressure (nPa)", "minExtent": 17, "maxExtent": 17}},
                 "detail": {"field": "s", "type": "nominal"}}}
  ]
 }
],
"spacing": 0,
"bounds": "full"
}
